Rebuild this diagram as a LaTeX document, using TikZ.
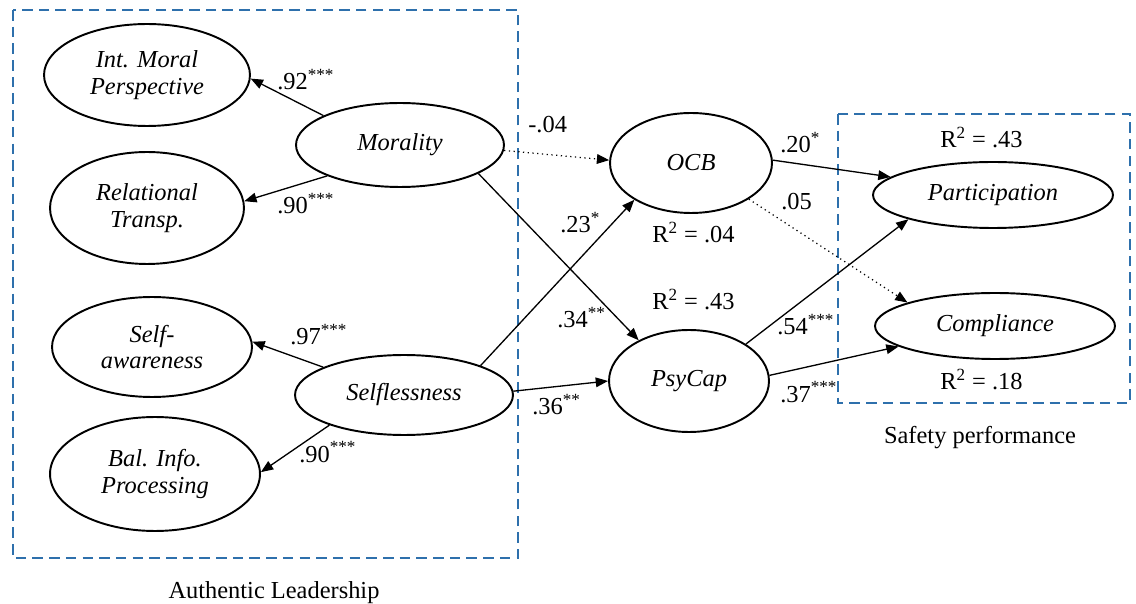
\documentclass[tikz,border=0pt]{standalone}
\usepackage{fontspec}
\setmainfont{Liberation Serif}
\usetikzlibrary{shapes.geometric,arrows.meta}
\definecolor{boxblue}{RGB}{46,112,172}
\begin{document}
\begin{tikzpicture}[x=0.02cm,y=-0.02cm,
  lat/.style={ellipse,draw,line width=1.1pt,inner sep=0pt,align=center,
    font=\itshape\fontsize{13.9}{15.3}\selectfont},
  causal/.style={line width=0.75pt,-{Triangle[length=7pt,width=5.5pt]}},
  nonsig/.style={line width=0.7pt,dotted,-{Triangle[length=7pt,width=5.5pt]}},
  coef/.style={anchor=base west,inner sep=0pt,font=\fontsize{13.9}{15.3}\selectfont},
  grpbox/.style={draw=boxblue,line width=1.2pt,dash pattern=on 6pt off 3.5pt},
  grplabel/.style={anchor=base,inner sep=0pt,font=\fontsize{13.9}{15.3}\selectfont},
]
\useasboundingbox (0,0) rectangle (1136,604);

% construct groupings
\draw[grpbox] (13,10) rectangle (518,558);
\draw[grpbox] (838,114) rectangle (1130,403);
\node[grplabel] (alab) at (274,598) {Authentic Leadership};
\node[grplabel] (slab) at (980,443) {Safety performance};

% latent variables
\node[lat,minimum width=4.12cm,minimum height=2.04cm] (imp) at (147,75) {Int. Moral\\Perspective};
\node[lat,minimum width=3.88cm,minimum height=2.24cm] (rel) at (147,208) {Relational\\Transp.};
\node[lat,minimum width=4.16cm,minimum height=1.68cm] (mor) at (400,145) {Morality};
\node[lat,minimum width=4.00cm,minimum height=2.00cm] (saw) at (152,347) {Self-\\awareness};
\node[lat,minimum width=4.20cm,minimum height=2.28cm] (bip) at (155,474) {Bal. Info.\\Processing};
\node[lat,minimum width=4.36cm,minimum height=1.60cm] (sel) at (404,395) {Selflessness};
\node[lat,minimum width=3.24cm,minimum height=2.00cm] (ocb) at (691,163) {OCB};
\node[lat,minimum width=3.20cm,minimum height=2.04cm] (psy) at (689,381) {PsyCap};
\node[lat,minimum width=4.80cm,minimum height=1.32cm] (par) at (993,195) {Participation};
\node[lat,minimum width=4.80cm,minimum height=1.32cm] (com) at (995,326) {Compliance};

% measurement paths
\draw[causal] (mor.159) -- (imp.-2);
\draw[causal] (mor.203) -- (rel.4);
\draw[causal] (sel.161) -- (saw.3);
\draw[causal] (sel.202) -- (bip.1);

% structural paths
\draw[nonsig] (mor.-3) -- (ocb.178);
\draw[causal] (mor.-20) -- (psy.141);
\draw[causal] (sel.21) -- (ocb.213);
\draw[causal] (sel.2) -- (psy.180);
\draw[causal] (ocb.2) -- (par.170);
\draw[nonsig] (ocb.-32) -- (com.165);
\draw[causal] (psy.33) -- (par.196);
\draw[causal] (psy.4) -- (com.192);

% coefficients
\node[coef] (c1) at (277,90) {.92\textsuperscript{***}};
\node[coef] (c2) at (277,214) {.90\textsuperscript{***}};
\node[coef] (c3) at (290,345) {.97\textsuperscript{***}};
\node[coef] (c4) at (299,462) {.90\textsuperscript{***}};
\node[coef] (c5) at (528,133) {-.04};
\node[coef] (c6) at (780,153) {.20\textsuperscript{*}};
\node[coef] (c7) at (781,210) {.05};
\node[coef] (c8) at (560,233) {.23\textsuperscript{*}};
\node[coef] (c9) at (557,328) {.34\textsuperscript{**}};
\node[coef] (c10) at (777,335) {.54\textsuperscript{***}};
\node[coef] (c11) at (532,415) {.36\textsuperscript{**}};
\node[coef] (c12) at (780,402) {.37\textsuperscript{***}};

% explained variance
\node[coef] (r1) at (652,243) {R\textsuperscript{2} = .04};
\node[coef] (r2) at (652,310) {R\textsuperscript{2} = .43};
\node[coef] (r3) at (940,148) {R\textsuperscript{2} = .43};
\node[coef] (r4) at (940,390) {R\textsuperscript{2} = .18};
\end{tikzpicture}
\end{document}
